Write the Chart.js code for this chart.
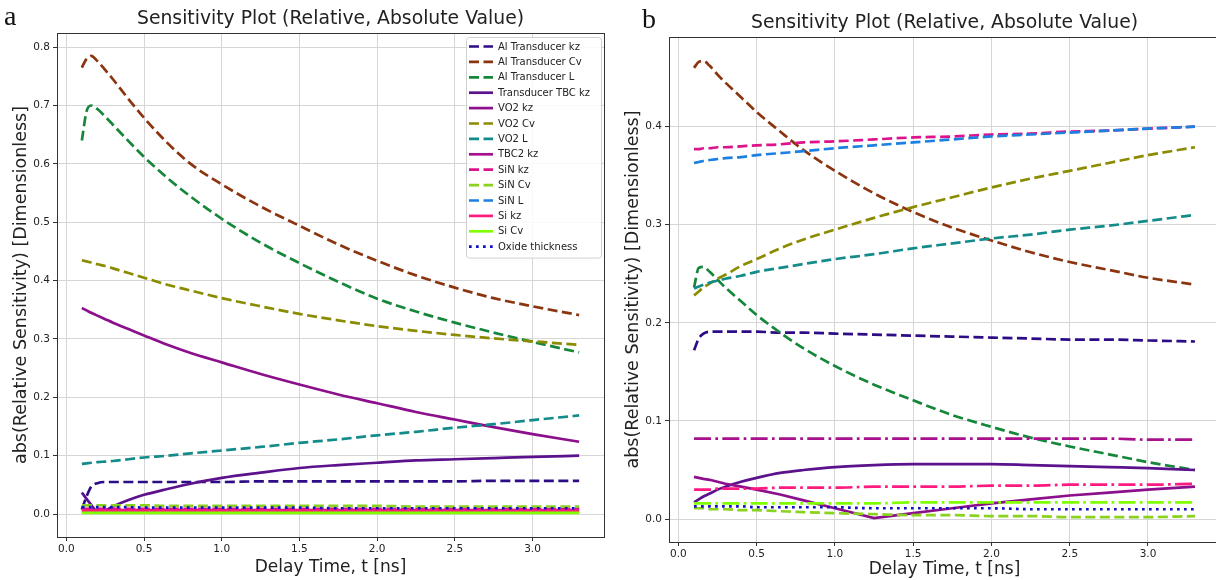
<!DOCTYPE html>
<html>
<head>
<meta charset="utf-8">
<title>Sensitivity Plot</title>
<script src="https://cdn.jsdelivr.net/npm/chart.js@4.4.1/dist/chart.umd.min.js"></script>
<style>
  body { margin: 0; background: #fff; overflow: hidden; width: 1216px; height: 580px; position: relative; }
  .panel { position: absolute; top: 0; height: 580px; }
  #boxA { left: 0; width: 612px; }
  #boxB { left: 612px; width: 610px; }
  .tag { position: absolute; font-family: "Liberation Serif", "DejaVu Serif", serif; font-size: 28px; line-height: 28px; color: #111; }
</style>
</head>
<body>
<div class="panel" id="boxA"><canvas id="chartA"></canvas></div>
<div class="panel" id="boxB"><canvas id="chartB"></canvas></div>
<div class="tag" style="left:4px;top:2px">a</div>
<div class="tag" style="left:642px;top:5px">b</div>
<script>
// delay times (ns) shared by every curve
const delay = [0.1, 0.13, 0.16, 0.2, 0.25, 0.3, 0.4, 0.5, 0.65, 0.8, 1.0, 1.25, 1.5, 1.75, 2.0, 2.25, 2.5, 2.75, 3.0, 3.3];
const xTicks = [0, 0.5, 1, 1.5, 2, 2.5, 3];
const yTicksA = [0, 0.1, 0.2, 0.3, 0.4, 0.5, 0.6, 0.7, 0.8];
const yTicksB = [0, 0.1, 0.2, 0.3, 0.4];

const names = ['Al Transducer kz', 'Al Transducer Cv', 'Al Transducer L', 'Transducer TBC kz', 'VO2 kz', 'VO2 Cv', 'VO2 L',
  'TBC2 kz', 'SiN kz', 'SiN Cv', 'SiN L', 'Si kz', 'Si Cv', 'Oxide thickness'];

// panel a
const aAlKz   = [0.008, 0.030, 0.047, 0.053, 0.055, 0.055, 0.055, 0.055, 0.055, 0.055, 0.055, 0.056, 0.056, 0.056, 0.056, 0.056, 0.056, 0.057, 0.057, 0.057];
const aAlCv   = [0.765, 0.780, 0.785, 0.776, 0.761, 0.745, 0.711, 0.679, 0.636, 0.600, 0.565, 0.527, 0.494, 0.462, 0.434, 0.409, 0.388, 0.370, 0.356, 0.341];
const aAlL    = [0.640, 0.690, 0.700, 0.694, 0.681, 0.667, 0.639, 0.612, 0.576, 0.544, 0.506, 0.465, 0.430, 0.398, 0.369, 0.347, 0.328, 0.311, 0.295, 0.277];
const aTbcKz  = [0.037, 0.026, 0.016, 0.004, 0.006, 0.013, 0.024, 0.033, 0.043, 0.052, 0.062, 0.071, 0.079, 0.084, 0.088, 0.092, 0.094, 0.096, 0.098, 0.100];
const aVo2Kz  = [0.353, 0.349, 0.345, 0.340, 0.334, 0.328, 0.317, 0.306, 0.290, 0.276, 0.260, 0.240, 0.222, 0.205, 0.190, 0.175, 0.162, 0.149, 0.137, 0.124];
const aVo2Cv  = [0.435, 0.433, 0.431, 0.428, 0.425, 0.421, 0.413, 0.405, 0.393, 0.383, 0.370, 0.356, 0.343, 0.332, 0.322, 0.314, 0.307, 0.301, 0.296, 0.290];
const aVo2L   = [0.086, 0.087, 0.088, 0.089, 0.090, 0.091, 0.094, 0.097, 0.100, 0.104, 0.109, 0.115, 0.122, 0.128, 0.135, 0.141, 0.148, 0.154, 0.161, 0.169];
const aTbc2Kz = [0.007, 0.007, 0.007, 0.007, 0.007, 0.007, 0.007, 0.007, 0.007, 0.007, 0.007, 0.007, 0.007, 0.007, 0.007, 0.007, 0.007, 0.007, 0.007, 0.007];
const aSinKz  = [0.009, 0.009, 0.009, 0.009, 0.009, 0.009, 0.009, 0.009, 0.009, 0.009, 0.009, 0.009, 0.009, 0.009, 0.009, 0.009, 0.009, 0.009, 0.009, 0.009];
const aSinCv  = [0.015, 0.015, 0.015, 0.015, 0.015, 0.015, 0.015, 0.015, 0.014, 0.014, 0.014, 0.014, 0.014, 0.014, 0.014, 0.013, 0.013, 0.013, 0.013, 0.013];
const aSinL   = [0.003, 0.003, 0.003, 0.003, 0.003, 0.003, 0.003, 0.003, 0.003, 0.003, 0.003, 0.003, 0.003, 0.003, 0.003, 0.003, 0.003, 0.003, 0.003, 0.003];
const aSiKz   = [0.006, 0.006, 0.006, 0.006, 0.006, 0.006, 0.006, 0.006, 0.006, 0.006, 0.006, 0.006, 0.006, 0.006, 0.006, 0.006, 0.006, 0.006, 0.006, 0.006];
const aSiCv   = [0.002, 0.002, 0.002, 0.002, 0.002, 0.002, 0.002, 0.002, 0.002, 0.002, 0.002, 0.002, 0.002, 0.002, 0.002, 0.002, 0.002, 0.002, 0.002, 0.002];
const aOxide  = [0.012, 0.012, 0.012, 0.012, 0.012, 0.012, 0.012, 0.011, 0.011, 0.011, 0.011, 0.011, 0.011, 0.010, 0.010, 0.010, 0.010, 0.010, 0.010, 0.010];

// panel b
const bAlKz   = [0.172, 0.184, 0.189, 0.191, 0.191, 0.191, 0.191, 0.191, 0.190, 0.190, 0.189, 0.188, 0.187, 0.186, 0.185, 0.184, 0.183, 0.183, 0.182, 0.181];
const bAlCv   = [0.460, 0.466, 0.467, 0.462, 0.453, 0.445, 0.430, 0.415, 0.395, 0.376, 0.355, 0.332, 0.313, 0.297, 0.284, 0.272, 0.262, 0.254, 0.246, 0.239];
const bAlL    = [0.236, 0.256, 0.257, 0.252, 0.244, 0.236, 0.222, 0.208, 0.190, 0.174, 0.156, 0.137, 0.121, 0.106, 0.094, 0.083, 0.074, 0.066, 0.058, 0.050];
const bTbcKz  = [0.017, 0.020, 0.023, 0.026, 0.030, 0.033, 0.038, 0.042, 0.047, 0.050, 0.053, 0.055, 0.056, 0.056, 0.056, 0.055, 0.054, 0.053, 0.052, 0.050];
const bVo2Kz  = [0.043, 0.042, 0.041, 0.040, 0.038, 0.036, 0.033, 0.030, 0.025, 0.019, 0.011, 0.001, 0.006, 0.011, 0.016, 0.020, 0.024, 0.027, 0.030, 0.033];
const bVo2Cv  = [0.228, 0.232, 0.236, 0.240, 0.245, 0.249, 0.258, 0.265, 0.276, 0.285, 0.295, 0.307, 0.318, 0.328, 0.338, 0.347, 0.355, 0.363, 0.371, 0.379];
const bVo2L   = [0.235, 0.237, 0.239, 0.241, 0.243, 0.245, 0.248, 0.252, 0.256, 0.260, 0.265, 0.270, 0.276, 0.281, 0.286, 0.290, 0.295, 0.299, 0.304, 0.310];
const bTbc2Kz = [0.082, 0.082, 0.082, 0.082, 0.082, 0.082, 0.082, 0.082, 0.082, 0.082, 0.082, 0.082, 0.082, 0.082, 0.082, 0.082, 0.082, 0.082, 0.081, 0.081];
const bSinKz  = [0.377, 0.377, 0.378, 0.378, 0.379, 0.379, 0.380, 0.381, 0.382, 0.384, 0.385, 0.387, 0.389, 0.390, 0.392, 0.393, 0.395, 0.396, 0.398, 0.400];
const bSinCv  = [0.011, 0.011, 0.011, 0.010, 0.010, 0.010, 0.009, 0.009, 0.008, 0.007, 0.006, 0.005, 0.004, 0.004, 0.003, 0.003, 0.002, 0.002, 0.002, 0.003];
const bSinL   = [0.363, 0.364, 0.365, 0.366, 0.367, 0.368, 0.369, 0.371, 0.373, 0.375, 0.378, 0.381, 0.384, 0.387, 0.390, 0.392, 0.394, 0.396, 0.398, 0.400];
const bSiKz   = [0.030, 0.030, 0.030, 0.030, 0.031, 0.031, 0.031, 0.031, 0.032, 0.032, 0.032, 0.033, 0.033, 0.033, 0.034, 0.034, 0.035, 0.035, 0.035, 0.036];
const bSiCv   = [0.016, 0.016, 0.016, 0.016, 0.016, 0.016, 0.016, 0.016, 0.016, 0.016, 0.016, 0.016, 0.017, 0.017, 0.017, 0.017, 0.017, 0.017, 0.017, 0.017];
const bOxide  = [0.013, 0.013, 0.013, 0.013, 0.013, 0.013, 0.013, 0.012, 0.012, 0.012, 0.012, 0.011, 0.011, 0.011, 0.011, 0.010, 0.010, 0.010, 0.010, 0.010];

const colors = ['#2d0c86', '#8b3510', '#16873a', '#5b128c', '#8c0f8c', '#8b8b00', '#138b8b',
  '#a8108e', '#dc138c', '#8ad21e', '#1b80e0', '#ff1a80', '#7fff00', '#1010c4'];

const LW = 2.7;
const dashes = {
  solid: [],
  dash: [10, 4.5],
  dot: [2.7, 4.3],
  dashdot: [17, 4.3, 2.7, 4.3]
};
const stylesA = ['dash', 'dash', 'dash', 'solid', 'solid', 'dash', 'dash', 'solid', 'dash', 'dash', 'dash', 'solid', 'solid', 'dot'];
const stylesB = ['dash', 'dash', 'dash', 'solid', 'solid', 'dash', 'dash', 'dashdot', 'dash', 'dash', 'dash', 'dashdot', 'dashdot', 'dot'];

const seriesA = [aAlKz, aAlCv, aAlL, aTbcKz, aVo2Kz, aVo2Cv, aVo2L, aTbc2Kz, aSinKz, aSinCv, aSinL, aSiKz, aSiCv, aOxide];
const seriesB = [bAlKz, bAlCv, bAlL, bTbcKz, bVo2Kz, bVo2Cv, bVo2L, bTbc2Kz, bSinKz, bSinCv, bSinL, bSiKz, bSiCv, bOxide];

const FONT = '"DejaVu Sans", sans-serif';
const INK = '#222';
const TITLE = 'Sensitivity Plot (Relative, Absolute Value)';

// box round the plot area (matplotlib spines)
const frame = {
  id: 'frame',
  afterDatasetsDraw(chart) {
    const { ctx, chartArea: a } = chart;
    ctx.save();
    ctx.strokeStyle = '#333';
    ctx.lineWidth = 1;
    ctx.strokeRect(Math.round(a.left) + 0.5, Math.round(a.top) + 0.5, Math.round(a.right - a.left), Math.round(a.bottom - a.top));
    ctx.restore();
  }
};

// title centred over the axes rather than the whole canvas
const axesTitle = {
  id: 'axesTitle',
  afterDraw(chart, args, opts) {
    const { ctx, chartArea: a } = chart;
    ctx.save();
    ctx.fillStyle = INK;
    ctx.font = '18.8px ' + FONT;
    ctx.textAlign = 'center';
    ctx.textBaseline = 'middle';
    ctx.fillText(opts.text, (a.left + a.right) / 2, opts.y);
    ctx.restore();
  }
};

// legend box in the upper right corner of the axes
const innerLegend = {
  id: 'innerLegend',
  afterDraw(chart, args, opts) {
    if (!opts.show) return;
    const { ctx, chartArea: a } = chart;
    const w = 135, rowH = 15.4;
    const sets = chart.data.datasets;
    const h = sets.length * rowH + 5;
    const x0 = a.right - w - 3, y0 = a.top + 4;
    ctx.save();
    ctx.fillStyle = 'rgba(255,255,255,0.85)';
    ctx.strokeStyle = '#d0d0d0';
    ctx.lineWidth = 1;
    ctx.beginPath();
    ctx.roundRect(x0 + 0.5, y0 + 0.5, w, h, 3);
    ctx.fill();
    ctx.stroke();
    ctx.font = '10px ' + FONT;
    ctx.textBaseline = 'middle';
    sets.forEach((ds, i) => {
      const y = y0 + 9.5 + i * rowH;
      ctx.strokeStyle = ds.borderColor;
      ctx.lineWidth = ds.borderWidth;
      ctx.setLineDash(ds.borderDash);
      ctx.beginPath();
      ctx.moveTo(x0 + 3, y);
      ctx.lineTo(x0 + 27, y);
      ctx.stroke();
      ctx.setLineDash([]);
      ctx.fillStyle = INK;
      ctx.fillText(ds.label, x0 + 32, y + 0.5);
    });
    ctx.restore();
  }
};

function makeDatasets(series, styles, sharp) {
  return series.map((vals, i) => ({
    label: names[i],
    data: vals.map((v, k) => ({ x: delay[k], y: v })),
    borderColor: colors[i],
    borderWidth: LW,
    borderDash: dashes[styles[i]],
    pointRadius: 0,
    fill: false,
    cubicInterpolationMode: sharp.includes(i) ? 'default' : 'monotone',
    tension: 0,
    order: series.length - i
  }));
}

function makeChart(id, series, styles, sharp, opt) {
  return new Chart(document.getElementById(id), {
    type: 'line',
    data: { datasets: makeDatasets(series, styles, sharp) },
    plugins: [frame, axesTitle, innerLegend],
    options: {
      responsive: true,
      maintainAspectRatio: false,
      animation: false,
      layout: { padding: { left: 0, right: opt.padRight, top: opt.padTop, bottom: 0 } },
      plugins: {
        legend: { display: false },
        tooltip: { enabled: false },
        title: { display: false },
        axesTitle: { text: TITLE, y: opt.titleY },
        innerLegend: { show: opt.legend }
      },
      scales: {
        x: {
          type: 'linear',
          min: -0.06,
          max: 3.46,
          afterBuildTicks: s => { s.ticks = xTicks.map(v => ({ value: v })); },
          afterFit: s => { s.height = opt.xHeight; },
          ticks: { color: INK, font: { family: FONT, size: 10.5 }, padding: 2, maxRotation: 0, callback: v => v.toFixed(1) },
          grid: { color: '#d6d6d6', lineWidth: 1, tickLength: 4, tickColor: '#333' },
          border: { display: true, color: '#333', width: 1 },
          title: { display: true, text: 'Delay Time, t [ns]', color: INK, font: { family: FONT, size: 17 }, padding: { top: 0, bottom: opt.xTitleBottom } }
        },
        y: {
          type: 'linear',
          min: opt.yMin,
          max: opt.yMax,
          afterBuildTicks: s => { s.ticks = opt.yTicks.map(v => ({ value: v })); },
          afterFit: s => { s.width = 57; },
          ticks: { color: INK, font: { family: FONT, size: 10.5 }, padding: 3, callback: v => v.toFixed(1) },
          grid: { color: '#d6d6d6', lineWidth: 1, tickLength: 4, tickColor: '#333' },
          border: { display: true, color: '#333', width: 1 },
          title: { display: true, text: 'abs(Relative Sensitivity) [Dimensionless]', color: INK, font: { family: FONT, size: 17.5 }, padding: { top: 11, bottom: 0 } }
        }
      }
    }
  });
}

makeChart('chartA', seriesA, stylesA, [], {
  legend: true, padRight: 8, padTop: 33, titleY: 19, xHeight: 43, xTitleBottom: 2,
  yMin: -0.03925, yMax: 0.82425, yTicks: yTicksA
});
makeChart('chartB', seriesB, stylesB, [4], {
  legend: false, padRight: 2, padTop: 37, titleY: 23, xHeight: 38, xTitleBottom: 0,
  yMin: -0.0234, yMax: 0.4914, yTicks: yTicksB
});
</script>
</body>
</html>
